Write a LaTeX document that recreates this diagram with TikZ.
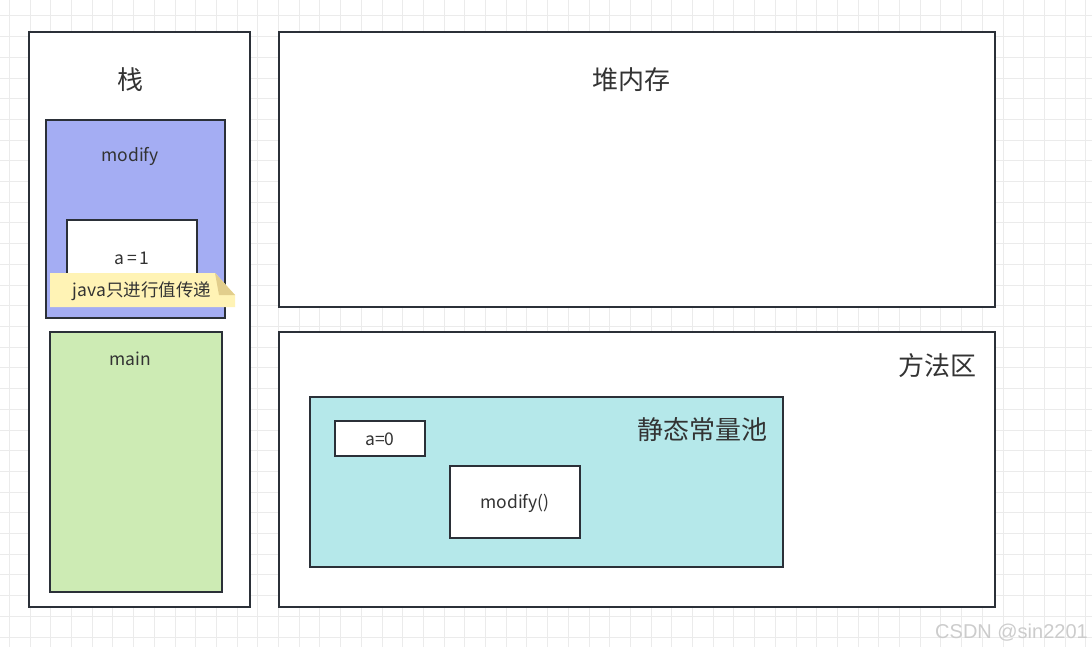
\documentclass[tikz,border=0pt]{standalone}
\usepackage{fontspec}
\setmainfont{Noto Sans CJK SC}
\newfontfamily\wmfont{Liberation Sans}
\definecolor{edge}{HTML}{2B3038}
\definecolor{gridc}{HTML}{EBEBEB}
\definecolor{modc}{HTML}{A4ADF3}
\definecolor{mainc}{HTML}{CDEBB4}
\definecolor{poolc}{HTML}{B5E8EA}
\definecolor{notec}{HTML}{FFF3B5}
\definecolor{foldc}{HTML}{E2CE8C}
\definecolor{txt}{HTML}{333333}
\tikzset{
  box/.style={draw=edge, line width=1.6pt, inner sep=0pt, outer sep=0pt},
  title/.style={font=\fontsize{26}{28}\selectfont, text=txt, inner sep=0pt},
  small/.style={font=\fontsize{17.5}{19}\selectfont, text=txt, inner sep=0pt},
}
\begin{document}
\begin{tikzpicture}[x=1pt,y=-1pt]
\useasboundingbox (0,0) rectangle (1092,647);
\fill[white] (0,0) rectangle (1092,647);
% grid
\foreach \i in {0,...,53} {\draw[gridc, line width=1pt] ({9.4+20.7*\i},0) -- ({9.4+20.7*\i},647);}
\foreach \j in {0,...,31} {\draw[gridc, line width=1pt] (0,{16+20.7*\j}) -- (1092,{16+20.7*\j});}
% stack
\draw[box, fill=white] (29,32) rectangle (250,607);
\node[title] (stk) at (130,80) {栈};
\draw[box, fill=modc] (46,120) rectangle (225,318);
\node[small] (modl) at (130,156) {modify};
\draw[box, fill=white] (67,220) rectangle (197,300);
\node[small] (a1) at (132,258) {a\,=\,1};
% note
\fill[notec] (50,273) -- (215,273) -- (235,295) -- (235,307) -- (50,307) -- cycle;
\fill[foldc] (215,273) -- (235,295) -- (219,295) -- cycle;
\node[small] (note) at (142,291) {java只进行值传递};
\draw[box, fill=mainc] (50,332) rectangle (222,592);
\node[small] (mainl) at (130,359) {main};
% heap
\draw[box, fill=white] (279,32) rectangle (995,307);
\node[title] (heap) at (631,80) {堆内存};
% method area
\draw[box, fill=white] (279,332) rectangle (995,607);
\node[title] (meth) at (937,366) {方法区};
\draw[box, fill=poolc] (310,397) rectangle (783,567);
\node[title] (pool) at (702,430) {静态常量池};
\draw[box, fill=white] (335,421) rectangle (425,456);
\node[small] (a0) at (380,439) {a=0};
\draw[box, fill=white] (450,466) rectangle (580,538);
\node[small] (mf) at (515,503) {modify()};
% watermark
\node[anchor=base east, font=\wmfont\fontsize{20}{22}\selectfont, text=black!20, inner sep=0pt] (wm) at (1088,638) {CSDN @sin2201};
\end{tikzpicture}
\end{document}
